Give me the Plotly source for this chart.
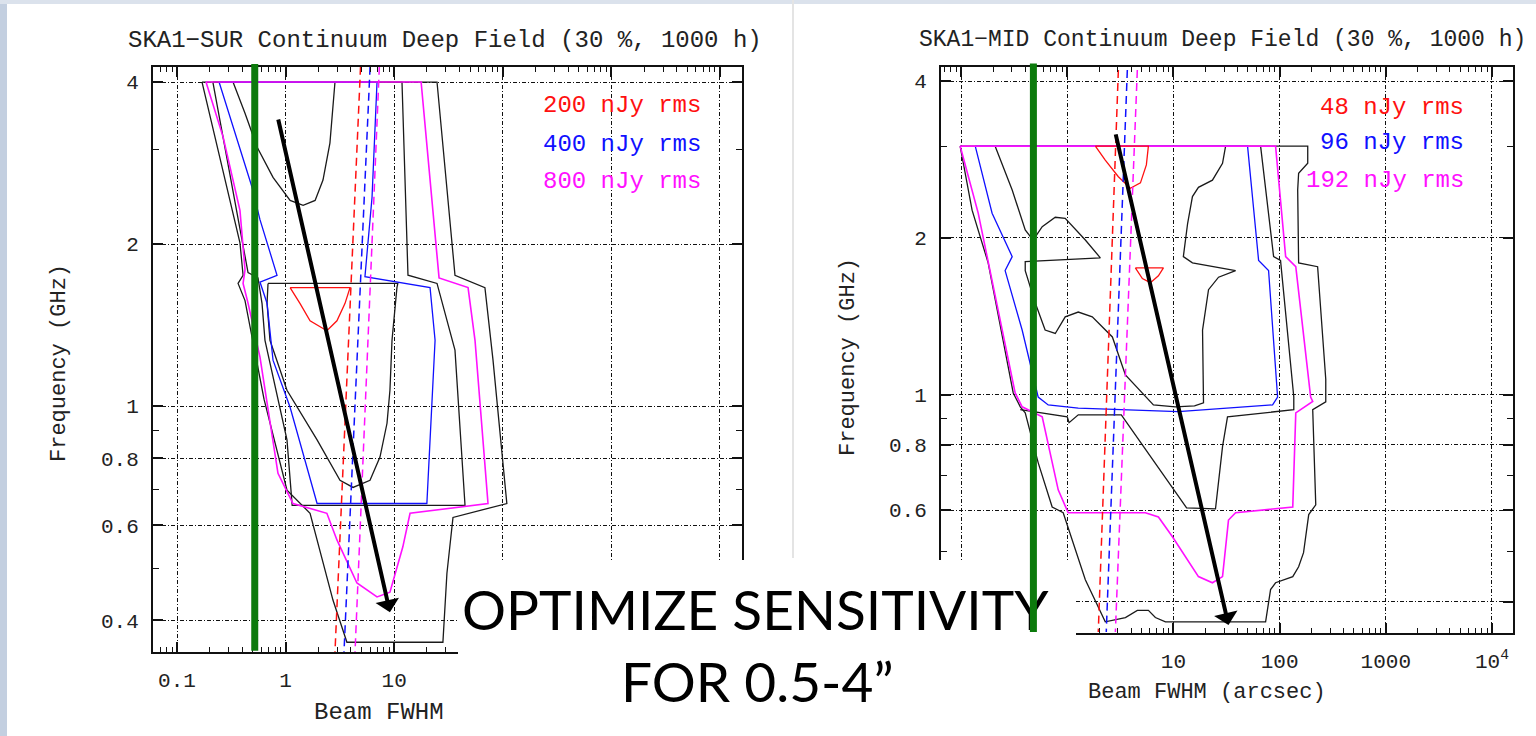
import numpy as np
import plotly.graph_objects as go

W, H = 1536, 736

# ---------------- data: SKA1-SUR (left panel) ----------------
# beam FWHM in arcsec, frequency in GHz
sur_red_beam = [1.10, 3.92, 3.52, 2.97, 2.40, 1.68, 1.36, 1.10]
sur_red_freq = [1.66, 1.66, 1.55, 1.44, 1.38, 1.44, 1.55, 1.66]

sur_blue_beam = [0.244, 0.328, 0.491, 0.581, 0.834, 0.581, 0.675, 0.766, 1.10, 1.95,
                 20.0, 23.8, 21.4, 5.38, 6.25, 6.95, 0.244]
sur_blue_freq = [4.0, 3.30, 2.55, 2.22, 1.75, 1.70, 1.553, 1.217, 0.995, 0.659,
                 0.659, 1.325, 1.66, 1.74, 2.44, 4.0, 4.0]

sur_magenta_beam = [0.185, 17.7, 25.9, 47.9, 55.5, 73.1, 14.0, 12.0, 9.14, 6.95, 4.54,
                    2.97, 2.40, 1.17, 0.851, 0.581, 0.451, 0.406, 0.423, 0.380, 0.266, 0.185]
sur_magenta_freq = [4.0, 4.0, 1.73, 1.66, 1.325, 0.659, 0.632, 0.547, 0.451, 0.442, 0.469,
                    0.564, 0.632, 0.659, 0.750, 1.233, 1.553, 1.69, 1.79, 2.31, 3.16, 4.0]

sur_black_outer_beam = [0.170, 0.380, 0.406, 0.365, 0.423, 0.633, 1.03, 1.68, 2.73, 3.67,
                        28.1, 30.6, 34.8, 109, 81.3, 68.5, 36.3, 24.8, 0.170]
sur_black_outer_freq = [4.0, 2.01, 1.75, 1.69, 1.57, 1.03, 0.698, 0.632, 0.436, 0.364,
                        0.364, 0.489, 0.621, 0.659, 1.217, 1.66, 1.75, 4.0, 4.0]

sur_black_mid_beam = [0.214, 0.406, 0.451, 0.557, 0.607, 0.646, 1.03, 1.15, 44.9, 36.3,
                      24.8, 13.4, 11.8, 0.214]
sur_black_mid_freq = [4.0, 2.01, 1.77, 1.73, 1.55, 1.325, 0.865, 0.654, 0.654, 1.27,
                      1.69, 1.75, 4.0, 4.0]

sur_black_upper_beam = [0.328, 0.423, 0.546, 0.766, 1.10, 1.45, 1.87, 2.21, 2.56, 2.85]
sur_black_upper_freq = [4.0, 3.50, 3.03, 2.66, 2.41, 2.36, 2.41, 2.63, 3.08, 4.0]

sur_black_lower_beam = [0.689, 10.8, 10.6, 9.55, 9.14, 8.59, 7.40, 5.99, 4.18, 3.17, 1.95,
                        1.03, 0.718, 0.675, 0.689]
sur_black_lower_freq = [1.69, 1.69, 1.66, 1.325, 1.07, 0.929, 0.804, 0.728, 0.706, 0.728,
                        0.865, 1.07, 1.325, 1.553, 1.69]

sur_dash_freq = [4.27, 0.349]
sur_red_dash_beam = [4.9, 2.85]
sur_blue_dash_beam = [6.0, 3.45]
sur_magenta_dash_beam = [7.3, 4.36]

# ---------------- data: SKA1-MID (right panel) ----------------
mid_red_beam = [1.84, 2.28, 3.03, 3.93, 4.89, 5.56, 5.81, 1.84]
mid_red_freq = [3.0, 2.82, 2.62, 2.49, 2.55, 2.76, 3.0, 3.0]
mid_red2_beam = [4.38, 8.05, 7.22, 6.07, 5.10, 4.38]
mid_red2_freq = [1.75, 1.75, 1.69, 1.64, 1.67, 1.75]

mid_blue_beam = [0.136, 0.196, 0.303, 0.260, 0.376, 0.532, 0.662, 1.27, 11.1, 85.9, 95.7,
                 78.7, 63.4, 49.9, 0.136]
mid_blue_freq = [3.0, 2.23, 1.84, 1.73, 1.33, 0.989, 0.955, 0.942, 0.927, 0.955, 0.989,
                 1.73, 1.81, 3.0, 3.0]

mid_magenta_beam = [0.098, 91.6, 114, 142, 196, 205, 142, 133, 38.5, 33.0, 29.0, 23.3, 17.2,
                    9.79, 7.22, 5.44, 1.02, 0.822, 0.581, 0.376, 0.323, 0.209, 0.145, 0.098]
mid_magenta_freq = [3.0, 3.0, 1.84, 1.76, 0.989, 0.97, 0.922, 0.608, 0.593, 0.574, 0.447,
                    0.435, 0.447, 0.533, 0.582, 0.593, 0.593, 0.656, 0.906, 0.947, 1.007,
                    1.54, 2.23, 3.0]

mid_black_outer_beam = [0.098, 184, 184, 151, 148, 151, 228, 272, 272, 205, 219, 188, 168,
                        151, 133, 91.6, 82.2, 73.8, 8.41, 6.76, 5.81, 4.57, 3.53, 2.28, 1.48,
                        0.916, 0.721, 0.532, 0.402, 0.361, 0.310, 0.180, 0.127, 0.098]
mid_black_outer_freq = [3.0, 3.0, 2.78, 2.66, 2.47, 1.79, 1.76, 1.07, 0.968, 0.935, 0.614,
                        0.588, 0.497, 0.467, 0.447, 0.435, 0.422, 0.366, 0.366, 0.373, 0.385,
                        0.385, 0.373, 0.366, 0.441, 0.593, 0.608, 0.740, 0.922, 0.947, 1.007,
                        1.79, 2.26, 3.0]

mid_black_inner_beam = [0.361, 1.0, 1.04, 1.27, 3.23, 13.3, 24.9, 29.0, 32.3, 136, 136,
                        102, 87.8, 66.2]
mid_black_inner_freq = [0.935, 0.906, 0.883, 0.914, 0.914, 0.606, 0.603, 0.794, 0.906,
                        0.935, 0.989, 1.81, 1.84, 3.0]

mid_black_hat_beam = [0.209, 0.303, 0.402, 0.477, 0.581, 0.771, 0.957, 1.48, 2.05, 0.402,
                      0.402, 0.499, 0.619, 0.771, 0.957, 1.27, 1.72, 2.66, 3.53, 6.48, 10.4,
                      15.8, 19.2, 18.8, 21.4, 26.6, 38.5, 15.1, 12.4, 13.6, 15.1, 17.2, 23.3,
                      29.0, 31.0]
mid_black_hat_freq = [3.0, 2.47, 2.07, 1.98, 2.10, 2.19, 2.18, 1.98, 1.83, 1.80, 1.73, 1.50,
                      1.33, 1.31, 1.41, 1.44, 1.41, 1.29, 1.09, 0.955, 0.947, 0.951, 0.964,
                      1.33, 1.59, 1.68, 1.73, 1.79, 1.84, 2.13, 2.40, 2.50, 2.58, 2.78, 3.0]

mid_dash_freq = [4.2, 0.35]
mid_red_dash_beam = [3.03, 1.96]
mid_blue_dash_beam = [3.68, 2.33]
mid_magenta_dash_beam = [4.57, 2.84]

# overlays (beam arcsec, freq GHz)
sur_green_beam = [0.52, 0.52]
sur_green_freq = [0.351, 4.35]
mid_green_beam = [0.48, 0.48]
mid_green_freq = [0.35, 4.35]
sur_arrow_beam = [9.14, 0.85]      # head, tail
sur_arrow_freq = [0.414, 3.43]
mid_arrow_beam = [33.0, 2.84]
mid_arrow_freq = [0.361, 3.18]

sur_labels = ["200 nJy rms", "400 nJy rms", "800 nJy rms"]
mid_labels = ["48 nJy rms", "96 nJy rms", "192 nJy rms"]
x_tickvals = [0.1, 1, 10, 100, 1000, 10000]
x_ticktext = ["0.1", "1", "10", "100", "1000", "10<sup>4</sup>"]
y_tickvals = [0.4, 0.6, 0.8, 1, 2, 4]
y_ticktext = ["0.4", "0.6", "0.8", "1", "2", "4"]
y_minor = [0.5, 0.7, 0.9, 3]
x_minor = [k * 10.0 ** e for e in range(-2, 5) for k in range(2, 10)]

RED, BLUE, MAG, BLK = "#ff1010", "#1010ff", "#ff10ff", "#1a1a1a"
GREEN = "#0c7a0c"
PG_FONT = "Liberation Mono"

fig = go.Figure()


def add_line(beam, freq, color, xa, ya, dash="solid", width=1.3):
    fig.add_trace(go.Scatter(x=beam, y=freq, mode="lines",
                             line=dict(color=color, width=width, dash=dash),
                             xaxis=xa, yaxis=ya, showlegend=False, hoverinfo="skip"))


# left panel
for b, f in [(sur_black_outer_beam, sur_black_outer_freq), (sur_black_mid_beam, sur_black_mid_freq),
             (sur_black_upper_beam, sur_black_upper_freq), (sur_black_lower_beam, sur_black_lower_freq)]:
    add_line(b, f, BLK, "x", "y")
add_line(sur_blue_beam, sur_blue_freq, BLUE, "x", "y")
add_line(sur_magenta_beam, sur_magenta_freq, MAG, "x", "y", width=1.6)
add_line(sur_red_beam, sur_red_freq, RED, "x", "y")
add_line(sur_red_dash_beam, sur_dash_freq, RED, "x", "y", dash="8px,5px", width=1.5)
add_line(sur_blue_dash_beam, sur_dash_freq, BLUE, "x", "y", dash="8px,5px", width=1.5)
add_line(sur_magenta_dash_beam, sur_dash_freq, MAG, "x", "y", dash="8px,5px", width=1.5)

# right panel
for b, f in [(mid_black_outer_beam, mid_black_outer_freq), (mid_black_inner_beam, mid_black_inner_freq),
             (mid_black_hat_beam, mid_black_hat_freq)]:
    add_line(b, f, BLK, "x2", "y2")
add_line(mid_blue_beam, mid_blue_freq, BLUE, "x2", "y2")
add_line(mid_magenta_beam, mid_magenta_freq, MAG, "x2", "y2", width=1.6)
add_line(mid_red_beam, mid_red_freq, RED, "x2", "y2")
add_line(mid_red2_beam, mid_red2_freq, RED, "x2", "y2")
add_line(mid_red_dash_beam, mid_dash_freq, RED, "x2", "y2", dash="8px,5px", width=1.5)
add_line(mid_blue_dash_beam, mid_dash_freq, BLUE, "x2", "y2", dash="8px,5px", width=1.5)
add_line(mid_magenta_dash_beam, mid_dash_freq, MAG, "x2", "y2", dash="8px,5px", width=1.5)

# empty traces so the minor-tick overlay axes get drawn
fig.add_trace(go.Scatter(x=[], y=[], xaxis="x3", yaxis="y3", showlegend=False))
fig.add_trace(go.Scatter(x=[], y=[], xaxis="x4", yaxis="y4", showlegend=False))


def pxx(p):
    return p / W


def pxy(p):
    return 1 - p / H


common = dict(type="log", showline=True, linecolor="#111", linewidth=2, mirror="ticks",
              ticks="inside", ticklen=10, tickwidth=1.5, tickcolor="#111",
              showgrid=True, gridcolor="#111", gridwidth=1.2, griddash="4px,2px,1px,2px",
              zeroline=False, tickfont=dict(family=PG_FONT, size=21, color="#222"),
              ticklabelstandoff=8, fixedrange=True)
xcommon = dict(common, tickmode="array", tickvals=x_tickvals, ticktext=x_ticktext)
ycommon = dict(common, tickmode="array", tickvals=y_tickvals, ticktext=y_ticktext)
minor_common = dict(type="log", showline=True, linecolor="#111", linewidth=2, mirror="ticks",
                    ticks="inside", ticklen=5, tickwidth=1.2, tickcolor="#111",
                    showgrid=False, zeroline=False, showticklabels=False, fixedrange=True,
                    tickmode="array")

XR1, YR1 = [-1.221, 4.203], [-0.457, 0.630]
XR2, YR2 = [-1.189, 4.198], [-0.458, 0.629]

fig.update_layout(
    width=W, height=H, margin=dict(l=0, r=0, t=0, b=0),
    paper_bgcolor="white", plot_bgcolor="white", showlegend=False,
    xaxis=dict(xcommon, domain=[pxx(153), pxx(742)], range=XR1, anchor="y"),
    yaxis=dict(ycommon, domain=[pxy(652), pxy(67)], range=YR1, anchor="x"),
    xaxis2=dict(xcommon, domain=[pxx(941), pxx(1513)], range=XR2, anchor="y2"),
    yaxis2=dict(ycommon, domain=[pxy(633), pxy(67)], range=YR2, anchor="x2"),
    xaxis3=dict(minor_common, tickvals=x_minor, range=XR1, overlaying="x", anchor="y"),
    yaxis3=dict(minor_common, tickvals=y_minor, range=YR1, overlaying="y", anchor="x", ticklen=6),
    xaxis4=dict(minor_common, tickvals=x_minor, range=XR2, overlaying="x2", anchor="y2"),
    yaxis4=dict(minor_common, tickvals=y_minor, range=YR2, overlaying="y2", anchor="x2", ticklen=6),
)

# slide background decorations
fig.add_shape(type="rect", xref="paper", yref="paper", x0=0, x1=pxx(7), y0=0, y1=1,
              fillcolor="#c3cfe0", line_width=0, layer="below")
fig.add_shape(type="rect", xref="paper", yref="paper", x0=0, x1=1, y0=pxy(4), y1=1,
              fillcolor="#dbe2ec", line_width=0, layer="below")
fig.add_shape(type="line", xref="paper", yref="paper", x0=pxx(793), x1=pxx(793), y0=pxy(558), y1=1,
              line=dict(color="#e4e4e4", width=2), layer="below")


def text_ann(x, y, text, size, color="#222", family=PG_FONT, angle=0, xanchor="center",
             xref="paper", yref="paper"):
    return dict(xref=xref, yref=yref, x=x, y=y, xanchor=xanchor, yanchor="middle",
                showarrow=False, text=text, textangle=angle,
                font=dict(family=family, size=size, color=color))


ann = []
# titles
ann.append(text_ann(pxx(445), pxy(40), "SKA1−SUR Continuum Deep Field (30 %, 1000 h)", 24))
ann.append(text_ann(pxx(1222), pxy(40), "SKA1−MID Continuum Deep Field (30 %, 1000 h)", 23))
# rms labels
for lab, col, yy in zip(sur_labels, [RED, BLUE, MAG], [0.935, 0.868, 0.805]):
    ann.append(text_ann(0.934, yy, lab, 24, color=col, xanchor="right",
                        xref="x domain", yref="y domain"))
for lab, col, yy in zip(mid_labels, [RED, BLUE, MAG], [0.929, 0.866, 0.800]):
    ann.append(text_ann(0.918, yy, lab, 24, color=col, xanchor="right",
                        xref="x2 domain", yref="y2 domain"))
# axis titles
ann.append(text_ann(pxx(60), pxy(363), "Frequency (GHz)", 22, angle=-90))
ann.append(text_ann(pxx(848), pxy(357), "Frequency (GHz)", 22, angle=-90))
ann.append(text_ann(pxx(1207), pxy(692), "Beam FWHM (arcsec)", 22))
ann.append(text_ann(pxx(443), pxy(712), "Beam FWHM (arcsec)", 24))
# white text box of the slide
ann.append(dict(xref="paper", yref="paper", x=pxx(458), y=pxy(560), xanchor="left", yanchor="top",
                width=618, height=176, bgcolor="white", borderpad=0, borderwidth=0,
                showarrow=False, text=" "))
ann.append(text_ann(pxx(755), pxy(609), "OPTIMIZE SENSITIVITY", 55, color="black", family="Lato"))
ann.append(text_ann(pxx(757), pxy(681), "FOR 0.5-4\u201d", 55, color="black", family="Lato"))


def arrow(xa, ya, beam, freq, color, width, head):
    return dict(xref=xa, yref=ya, axref=xa, ayref=ya,
                x=np.log10(beam[0]), y=np.log10(freq[0]),
                ax=np.log10(beam[1]), ay=np.log10(freq[1]),
                text="", showarrow=True, arrowhead=head, arrowsize=1, arrowwidth=width,
                arrowcolor=color, standoff=0, startstandoff=0)


ann.append(arrow("x", "y", sur_green_beam, sur_green_freq, GREEN, 7, 0))
ann.append(arrow("x2", "y2", mid_green_beam, mid_green_freq, GREEN, 7, 0))
ann.append(arrow("x", "y", sur_arrow_beam, sur_arrow_freq, "black", 4, 1))
ann.append(arrow("x2", "y2", mid_arrow_beam, mid_arrow_freq, "black", 4, 1))

fig.update_layout(annotations=ann)
fig.write_html("out.html")
